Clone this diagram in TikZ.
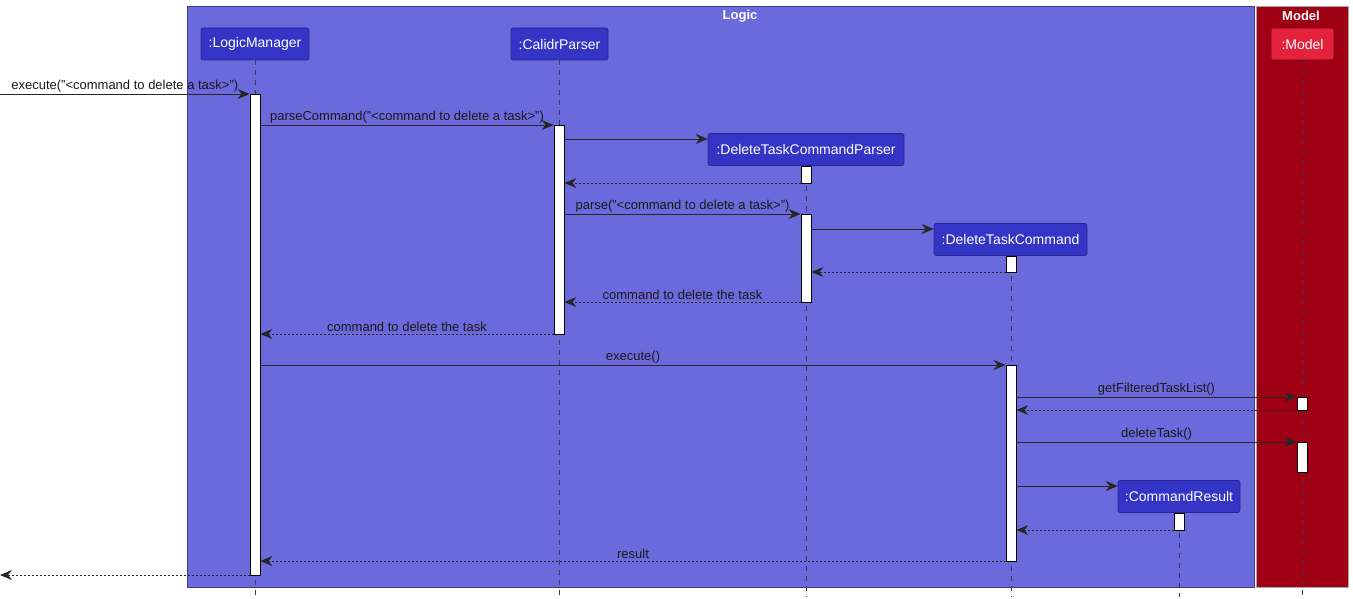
\documentclass[tikz,border=0pt]{standalone}
\usepackage{fontspec}
\setmainfont{Liberation Sans}
\usetikzlibrary{arrows.meta}
\definecolor{logicbg}{HTML}{6A6ADC}
\definecolor{logicbd}{HTML}{3C3C8C}
\definecolor{partbg}{HTML}{3434C6}
\definecolor{partbd}{HTML}{26268F}
\definecolor{modelbg}{HTML}{A00014}
\definecolor{modelpart}{HTML}{E4223C}
\definecolor{modelbd}{HTML}{70000E}
\definecolor{lifeln}{HTML}{3A3A5A}
\begin{document}
\begin{tikzpicture}[x=1pt,y=-1pt,
  part/.style={draw=partbd, fill=partbg, rounded corners=2pt, line width=0.6pt,
    minimum height=32pt, inner sep=0pt, text=white, font=\fontsize{14}{16}\selectfont},
  act/.style={draw=black, fill=white, line width=0.8pt, minimum width=10pt, inner sep=0pt, anchor=north},
  life/.style={draw=lifeln, line width=0.7pt, dash pattern=on 5pt off 5pt},
  msg/.style={draw=black!85, line width=0.8pt, -{Stealth[length=12pt,width=10pt,inset=4pt]}},
  ret/.style={msg, dash pattern=on 2pt off 2pt},
  lbl/.style={font=\fontsize{13}{15}\selectfont, text=black!90, anchor=south, inner sep=0pt, yshift=1.5pt},
  ftitle/.style={font=\bfseries\fontsize{13}{15}\selectfont, text=white}
]
\useasboundingbox (0,0) rectangle (1353,599);
% frames
\node[draw=logicbd, fill=logicbg, line width=0.6pt, minimum width=1067pt, minimum height=581pt, anchor=north west, inner sep=0pt] (logic) at (187,6) {};
\node[draw=gray!70, fill=modelbg, line width=0.6pt, minimum width=92pt, minimum height=581pt, anchor=north west, inner sep=0pt] (model) at (1256,6) {};
\node[ftitle] (logicT) at (740,16) {Logic};
\node[ftitle] (modelT) at (1301,16) {Model};

% participants
\node[part, minimum width=108pt] (lm) at (255,44) {:LogicManager};
\node[part, minimum width=97pt] (cp) at (559.5,44) {:CalidrParser};
\node[part, minimum width=196pt] (dtcp) at (806,149.5) {:DeleteTaskCommandParser};
\node[part, minimum width=153pt] (dtc) at (1010.5,239.5) {:DeleteTaskCommand};
\node[part, minimum width=122pt] (cr) at (1179,496.5) {:CommandResult};
\node[part, draw=modelbd, fill=modelpart, minimum width=63pt] (md) at (1302.5,44) {:Model};

% lifeline ends
\coordinate (lmE) at (255,597);
\coordinate (cpE) at (559,597);
\coordinate (dtcpE) at (806,597);
\coordinate (dtcE) at (1011,597);
\coordinate (crE) at (1179,597);
\coordinate (mdE) at (1302,597);
\draw[life] (lm.south -| 255,0) -- (lmE);
\draw[life] (cp.south -| 559,0) -- (cpE);
\draw[life] (dtcp.south -| 806,0) -- (dtcpE);
\draw[life] (dtc.south -| 1011,0) -- (dtcE);
\draw[life] (cr.south -| 1179,0) -- (crE);
\draw[life] (md.south -| 1302,0) -- (mdE);

% activations
\node[act, minimum height=481pt] (lmA) at (255,94) {};
\node[act, minimum height=209pt] (cpA) at (559,125) {};
\node[act, minimum height=17pt] (dtcpA1) at (806,166) {};
\node[act, minimum height=88pt] (dtcpA2) at (806,214) {};
\node[act, minimum height=16pt] (dtcA1) at (1011,256) {};
\node[act, minimum height=196pt] (dtcA2) at (1011,365) {};
\node[act, minimum height=13pt] (mdA1) at (1302,397) {};
\node[act, minimum height=30pt] (mdA2) at (1302,442) {};
\node[act, minimum height=17pt] (crA) at (1179,513) {};

% free ends
\coordinate (in) at (0,94);
\coordinate (out) at (0,575);

% messages
\draw[msg] (in) -- node[lbl]{execute("<command to delete a task>")} (lmA.west |- 0,94);
\draw[msg] (lmA.east |- 0,125) -- node[lbl]{parseCommand("<command to delete a task>")} (cpA.west |- 0,125);
\draw[msg] (cpA.east |- 0,139) -- (dtcp.west |- 0,139);
\draw[ret] (dtcpA1.west |- 0,183) -- (cpA.east |- 0,183);
\draw[msg] (cpA.east |- 0,214) -- node[lbl]{parse("<command to delete a task>")} (dtcpA2.west |- 0,214);
\draw[msg] (dtcpA2.east |- 0,229) -- (dtc.west |- 0,229);
\draw[ret] (dtcA1.west |- 0,272) -- (dtcpA2.east |- 0,272);
\draw[ret] (dtcpA2.west |- 0,302) -- node[lbl]{command to delete the task} (cpA.east |- 0,302);
\draw[ret] (cpA.west |- 0,334) -- node[lbl]{command to delete the task} (lmA.east |- 0,334);
\draw[msg] (lmA.east |- 0,365) -- node[lbl]{execute()} (dtcA2.west |- 0,365);
\draw[msg] (dtcA2.east |- 0,397) -- node[lbl]{getFilteredTaskList()} (mdA1.west |- 0,397);
\draw[ret] (mdA1.west |- 0,410) -- (dtcA2.east |- 0,410);
\draw[msg] (dtcA2.east |- 0,442) -- node[lbl]{deleteTask()} (mdA2.west |- 0,442);
\draw[msg] (dtcA2.east |- 0,486) -- (cr.west |- 0,486);
\draw[ret] (crA.west |- 0,530) -- (dtcA2.east |- 0,530);
\draw[ret] (dtcA2.west |- 0,561) -- node[lbl]{result} (lmA.east |- 0,561);
\draw[ret] (lmA.west |- 0,575) -- (out);
\end{tikzpicture}
\end{document}
